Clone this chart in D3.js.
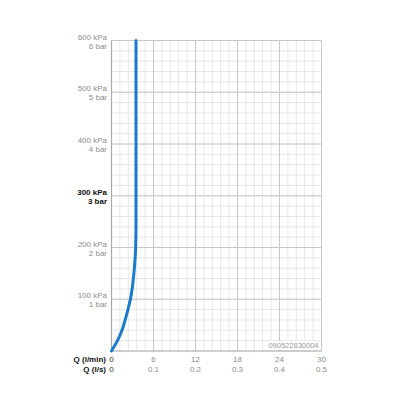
<!DOCTYPE html>
<html>
<head>
<meta charset="utf-8">
<script src="https://cdn.jsdelivr.net/npm/d3@7"></script>
<style>
  body { margin: 0; background: #fff; }
  text { font-family: "Liberation Sans", Arial, sans-serif; }
</style>
</head>
<body>
<svg id="chart" width="400" height="400"></svg>
<script>
// flow (l/min) against pressure (kPa)
var flowLpm = [0, 0.85, 1.5, 1.95, 2.35, 2.7, 3.0, 3.2, 3.35, 3.45, 3.5, 3.5];
var pressureKpa = [0, 20, 40, 60, 80, 100, 125, 150, 175, 200, 250, 600];

var yTicks = [100, 200, 300, 400, 500, 600];
var yKpaLabels = ["100 kPa", "200 kPa", "300 kPa", "400 kPa", "500 kPa", "600 kPa"];
var yBarLabels = ["1 bar", "2 bar", "3 bar", "4 bar", "5 bar", "6 bar"];
var xTicks = [0, 6, 12, 18, 24, 30];
var xLpsLabels = ["0", "0.1", "0.2", "0.3", "0.4", "0.5"];
var codeText = "090522830004";

var svg = d3.select("#chart");
var pLeft = 111.5, pRight = 321.5, pTop = 40.5, pBottom = 351;

var x = d3.scaleLinear().domain([0, 30]).range([pLeft, pRight]);
var y = d3.scaleLinear().domain([0, 600]).range([pBottom, pTop]);

// minor grid
var minorX = d3.range(0, 30.001, 1.2);
var minorY = d3.range(0, 600.001, 20);
svg.append("g").selectAll("line").data(minorX).enter().append("line")
    .attr("x1", d => x(d)).attr("x2", d => x(d)).attr("y1", pTop).attr("y2", pBottom)
    .attr("stroke", "#e6e6e6").attr("stroke-width", 1);
svg.append("g").selectAll("line").data(minorY).enter().append("line")
    .attr("x1", pLeft).attr("x2", pRight).attr("y1", d => y(d)).attr("y2", d => y(d))
    .attr("stroke", "#e6e6e6").attr("stroke-width", 1);

// major grid
svg.append("g").selectAll("line").data(xTicks).enter().append("line")
    .attr("x1", d => x(d)).attr("x2", d => x(d)).attr("y1", pTop).attr("y2", pBottom)
    .attr("stroke", "#c8c8c8").attr("stroke-width", 1);
svg.append("g").selectAll("line").data(yTicks).enter().append("line")
    .attr("x1", pLeft).attr("x2", pRight).attr("y1", d => y(d)).attr("y2", d => y(d))
    .attr("stroke", "#c8c8c8").attr("stroke-width", 1);

// axis lines
svg.append("line").attr("x1", pLeft).attr("x2", pLeft).attr("y1", pTop).attr("y2", pBottom)
    .attr("stroke", "#aaa").attr("stroke-width", 1.2);
svg.append("line").attr("x1", pLeft).attr("x2", pRight).attr("y1", pBottom).attr("y2", pBottom)
    .attr("stroke", "#aaa").attr("stroke-width", 1.2);

// code label
var code = svg.append("text").attr("x", pRight - 3).attr("y", pBottom - 3)
    .attr("text-anchor", "end").attr("font-size", 7.5).attr("fill", "#999").text(codeText);
var bb = code.node().getBBox();
svg.insert("rect", "text").attr("x", bb.x - 1).attr("y", bb.y).attr("width", bb.width + 2)
    .attr("height", bb.height).attr("fill", "#fff");

// curve
var line = d3.line().x(d => x(d[0])).y(d => y(d[1])).curve(d3.curveMonotoneY);
svg.append("path").datum(flowLpm.map((f, i) => [f, pressureKpa[i]]))
    .attr("d", line).attr("fill", "none").attr("stroke", "#1b7bc8")
    .attr("stroke-width", 3).attr("stroke-linecap", "round");

// y labels
yTicks.forEach(function (t, i) {
    var bold = t === 300;
    var col = bold ? "#111" : "#8c8c8c";
    svg.append("text").attr("x", 107).attr("y", y(t) - 1)
        .attr("text-anchor", "end").attr("font-size", 8).attr("fill", col)
        .attr("font-weight", bold ? "bold" : "normal").text(yKpaLabels[i]);
    svg.append("text").attr("x", 107).attr("y", y(t) + 8)
        .attr("text-anchor", "end").attr("font-size", 8).attr("fill", col)
        .attr("font-weight", bold ? "bold" : "normal").text(yBarLabels[i]);
});

// x labels
svg.append("text").attr("x", 106).attr("y", 362).attr("text-anchor", "end")
    .attr("font-size", 8).attr("font-weight", "bold").attr("fill", "#111").text("Q (l/min)");
svg.append("text").attr("x", 106).attr("y", 372).attr("text-anchor", "end")
    .attr("font-size", 8).attr("font-weight", "bold").attr("fill", "#111").text("Q (l/s)");
xTicks.forEach(function (t, i) {
    var col = i === 0 ? "#333" : "#8c8c8c";
    svg.append("text").attr("x", x(t)).attr("y", 362).attr("text-anchor", "middle")
        .attr("font-size", 8).attr("fill", col).text(t);
    svg.append("text").attr("x", x(t)).attr("y", 372).attr("text-anchor", "middle")
        .attr("font-size", 8).attr("fill", col).text(xLpsLabels[i]);
});
</script>
</body>
</html>
